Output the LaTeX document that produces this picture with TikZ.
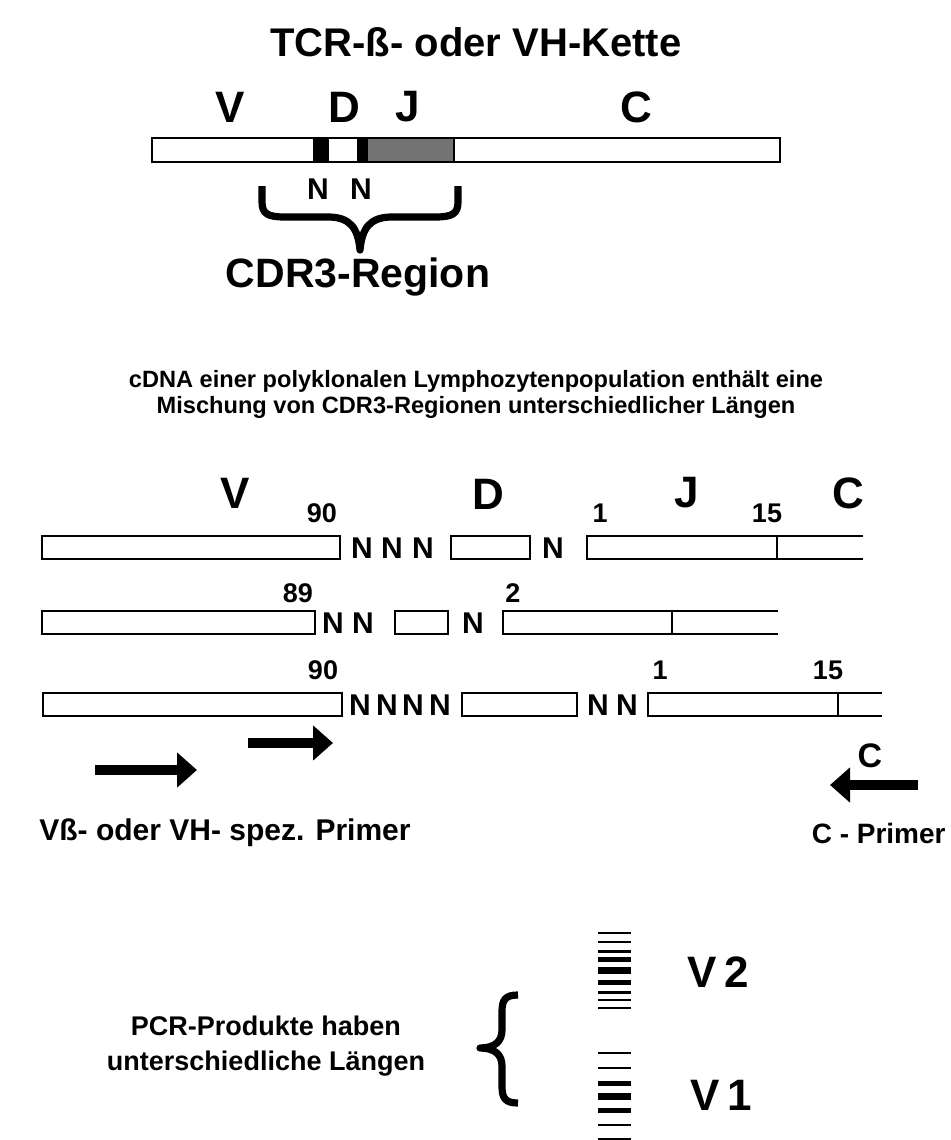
\documentclass[tikz,border=0pt]{standalone}
\usepackage{fontspec}
\setmainfont{Liberation Sans}
\usetikzlibrary{arrows.meta}

\tikzset{
  titel/.style={font=\bfseries\fontsize{20}{20}\selectfont},
  gross/.style={font=\bfseries\fontsize{22}{22}\selectfont},
  nlbl/.style={font=\bfseries\fontsize{15}{15}\selectfont, inner sep=0pt},
  zahl/.style={font=\bfseries\fontsize{13.5}{13.5}\selectfont, inner sep=0pt},
  text1/.style={font=\bfseries\fontsize{11.8}{13}\selectfont, align=center},
  text2/.style={font=\bfseries\fontsize{14}{16}\selectfont, align=center},
  segm/.style={draw, fill=white, line width=1.4pt},
  primer/.style={line width=5pt, -{Triangle[length=10pt, width=17pt]}},
  klammer/.style={line width=3.6pt, line join=round},
}

\begin{document}
\begin{tikzpicture}[x=0.5pt, y=-0.5pt, line width=1.4pt]
  \useasboundingbox (0,0) rectangle (951,1140);

  %%%%%%%%%%%%%%%%%%%%%%%%%%%%%%%%%%%%%%%%%%%%%%%%%
  % Titel
  \node[titel] (titel) at (476,42) {TCR-ß- oder VH-Kette};

  % Kette mit V, D, J, C
  \draw[segm] (152,138) rectangle (780,162);
  \fill (313,138) rectangle (329,162);
  \fill (357,138) rectangle (368,162);
  \fill[black!55] (368,138) rectangle (454,162);
  \draw (152,138) rectangle (780,162);
  \draw (454,138) -- (454,162);

  \node[gross] (kv) at (230,107) {V};
  \node[gross] (kd) at (344,107) {D};
  \node[gross] (kj) at (408,107) {J};
  \node[gross] (kc) at (636,107) {C};
  \node[nlbl] (kn1) at (318,189) {N};
  \node[nlbl] (kn2) at (361,189) {N};

  % Klammer CDR3
  \draw[klammer] (262,186) -- (262,202) .. controls (262,214) and (268,217) .. (285,217)
    -- (328,217) .. controls (350,217) and (358,228) .. (360,250)
    .. controls (362,228) and (370,217) .. (392,217) -- (435,217)
    .. controls (452,217) and (458,214) .. (458,202) -- (458,186);
  \node[font=\bfseries\fontsize{20.5}{20.5}\selectfont] (cdr) at (358,277) {CDR3-Region};

  %%%%%%%%%%%%%%%%%%%%%%%%%%%%%%%%%%%%%%%%%%%%%%%%%
  \node[text1] (cdna) at (476,394)
    {cDNA einer polyklonalen Lymphozytenpopulation enthält eine\\
     Mischung von CDR3-Regionen unterschiedlicher Längen};

  % Zeile 1
  \draw[segm] (42,536) rectangle (340,559);
  \draw[segm] (451,536) rectangle (530,559);
  \draw (863,536) -- (587,536) -- (587,559) -- (863,559);
  \draw (777,536) -- (777,559);
  \foreach \x/\i in {362/1, 392/2, 423/3, 553/4}
    \node[nlbl] (za\i) at (\x,548) {N};
  \node[gross] (zv) at (235,493) {V};
  \node[gross] (zd) at (488,494) {D};
  \node[gross] (zj) at (687,493) {J};
  \node[gross] (zc) at (848,493) {C};
  \node[zahl] (za90) at (322,513) {90};
  \node[zahl] (za1) at (600,513) {1};
  \node[zahl] (za15) at (767,513) {15};

  % Zeile 2
  \draw[segm] (42,611) rectangle (315,634);
  \draw[segm] (395,611) rectangle (448,634);
  \draw (778,611) -- (503,611) -- (503,634) -- (778,634);
  \draw (672,611) -- (672,634);
  \foreach \x/\i in {333/1, 363/2, 473/3}
    \node[nlbl] (zb\i) at (\x,623) {N};
  \node[zahl] (zb89) at (298,593) {89};
  \node[zahl] (zb2) at (513,593) {2};

  % Zeile 3
  \draw[segm] (43,693) rectangle (342,716);
  \draw[segm] (462,693) rectangle (577,716);
  \draw (882,693) -- (648,693) -- (648,716) -- (882,716);
  \draw (838,693) -- (838,716);
  \foreach \x/\i in {360/1, 387/2, 413/3, 440/4, 598/5, 627/6}
    \node[nlbl] (zc\i) at (\x,705) {N};
  \node[zahl] (zc90) at (323,670) {90};
  \node[zahl] (zc1) at (660,670) {1};
  \node[zahl] (zc15) at (828,670) {15};

  % Primer
  \coordinate (p1a) at (95,770);
  \coordinate (p1b) at (197,770);
  \coordinate (p2a) at (248,743);
  \coordinate (p2b) at (333,743);
  \coordinate (pca) at (918,785);
  \coordinate (pcb) at (830,785);
  \draw[primer] (p1a) -- (p1b);
  \draw[primer] (p2a) -- (p2b);
  \draw[primer] (pca) -- (pcb);
  \node[font=\bfseries\fontsize{17}{17}\selectfont] (pc) at (870,756) {C};
  \node[text2, font=\bfseries\fontsize{15}{15}\selectfont] (vprimer) at (225,833) {Vß- oder VH- spez. Primer};
  \node[text2, font=\bfseries\fontsize{14}{14}\selectfont, anchor=east, inner sep=1pt] (cprimer) at (949,833) {C - Primer};

  %%%%%%%%%%%%%%%%%%%%%%%%%%%%%%%%%%%%%%%%%%%%%%%%%
  % PCR-Produkte
  \node[text2, font=\bfseries\fontsize{13.5}{17.5}\selectfont] (pcr) at (266,1046)
    {PCR-Produkte haben\\unterschiedliche Längen};
  \draw[klammer] (518,995) .. controls (505,995) and (502,1000) .. (502,1012) -- (502,1030)
    .. controls (502,1042) and (494,1048) .. (480,1048)
    .. controls (494,1048) and (502,1054) .. (502,1066) -- (502,1086)
    .. controls (502,1098) and (505,1103) .. (518,1103);

  % Banden
  \foreach \y/\w in {933/2, 942/2, 951/3, 959/5, 970/7, 982/5, 992/3, 1000/2, 1008/2,
                     1053/2, 1068/2, 1083/5, 1096/7, 1110/5, 1125/2, 1139/2}
    \draw[line width=\w*0.5pt] (598,\y) -- (631,\y);
  \node[font=\bfseries\fontsize{22}{22}\selectfont] (v2) at (718,972) {V\,2};
  \node[font=\bfseries\fontsize{22}{22}\selectfont] (v1) at (721,1095) {V\,1};

\end{tikzpicture}
\end{document}
